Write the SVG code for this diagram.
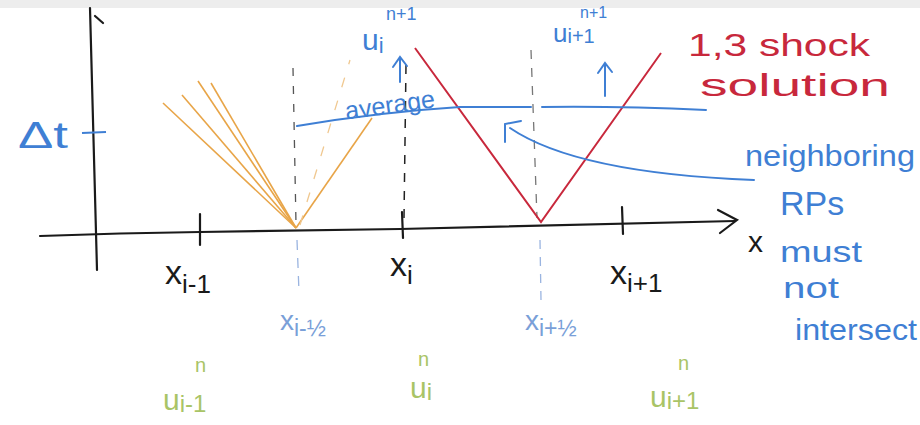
<svg xmlns="http://www.w3.org/2000/svg" width="920" height="425" viewBox="0 0 920 425">
<style>
text{font-family:"Liberation Sans","DejaVu Sans",sans-serif}
.blk{fill:#1a1a1a}
.blu{fill:#3f7fd4}
.lbl{fill:#7a9fd8}
.red{fill:#c8283c}
.grn{fill:#a9c466}
.ax{stroke:#1a1a1a;stroke-width:2.2;fill:none;stroke-linecap:round}
.bl{stroke:#3f7fd4;stroke-width:2;fill:none;stroke-linecap:round}
.rd{stroke:#c8283c;stroke-width:2;fill:none}
.or{stroke:#e8a548;stroke-width:1.6;fill:none}
</style>
<rect width="920" height="425" fill="#ffffff"/>
<rect width="920" height="8" fill="#ededed"/>
<g id="axes">
<path class="ax" d="M90 8 L97 270"/>
<path class="ax" d="M95 16 L103 23"/>
<path class="ax" d="M40 236 Q120 233 200 232 L400 229 L735 221"/>
<path class="ax" d="M718 210 L737 220 L720 233"/>
<path class="ax" d="M200 214 L200 245"/>
<path class="ax" d="M402 212 L403 238"/>
<path class="ax" d="M622 207 L623 234"/>
<path d="M82 133 L106 132" stroke="#3f7fd4" stroke-width="2.2"/>
</g>
<g id="dashed">
<path d="M293 68 L296 224" stroke="#555" stroke-width="1.3" stroke-dasharray="8 10" fill="none"/>
<path d="M297 240 L299 292" stroke="#9ab4e0" stroke-width="1.3" stroke-dasharray="10 8" fill="none"/>
<path d="M406 65 L404 218" stroke="#222" stroke-width="1.5" stroke-dasharray="9 9" fill="none"/>
<path d="M531 50 L537 218" stroke="#777" stroke-width="1.3" stroke-dasharray="9 9" fill="none"/>
<path d="M540 240 L541 300" stroke="#9ab4e0" stroke-width="1.3" stroke-dasharray="9 8" fill="none"/>
</g>
<g id="fan">
<path class="or" d="M296 228 L163 103"/>
<path class="or" d="M296 228 L182 95"/>
<path class="or" d="M296 228 L198 81"/>
<path class="or" d="M296 228 L211 83"/>
<path class="or" d="M296 228 L372 118"/>
<path d="M300 225 L350 60" stroke="#f0c890" stroke-width="1.3" stroke-dasharray="10 14" fill="none"/>
</g>
<g id="shock">
<path class="rd" d="M415 48 L541 222 L661 53"/>
</g>
<g id="average">
<path class="bl" d="M297 126 Q380 112 460 107 L531 107"/>
<path class="bl" d="M542 107 Q620 106 706 110"/>
<path class="bl" d="M400 82 L400 58 M393 67 L400 57 L407 66"/>
<path class="bl" d="M605 96 L605 64 M598 73 L605 63 L612 72"/>
<path class="bl" d="M754 180 C650 176 560 162 510 128"/>
<path class="bl" d="M505 142 L505 124 L521 121"/>
</g>
<g id="labels">
<text class="blu" x="18" y="148" font-size="36" textLength="50" lengthAdjust="spacingAndGlyphs">Δt</text>
<text class="blu" x="362" y="50" font-size="30">u<tspan font-size="22" dy="3">i</tspan></text>
<text class="blu" x="386" y="20" font-size="18">n+1</text>
<text class="blu" x="553" y="42" font-size="26">u<tspan font-size="20" dy="1">i+1</tspan></text>
<text class="blu" x="580" y="18" font-size="16">n+1</text>
<text class="blu" x="345" y="112" font-size="25" transform="rotate(-8 400 106)">average</text>
<text class="red" x="688" y="56" font-size="32" textLength="182" lengthAdjust="spacingAndGlyphs">1,3 shock</text>
<text class="red" x="700" y="96" font-size="32" textLength="190" lengthAdjust="spacingAndGlyphs">solution</text>
<text class="blu" x="745" y="166" font-size="30" textLength="170" lengthAdjust="spacingAndGlyphs">neighboring</text>
<text class="blu" x="780" y="215" font-size="34">RPs</text>
<text class="blu" x="780" y="262" font-size="30" textLength="82" lengthAdjust="spacingAndGlyphs">must</text>
<text class="blu" x="783" y="298" font-size="30" textLength="56" lengthAdjust="spacingAndGlyphs">not</text>
<text class="blu" x="795" y="340" font-size="29" textLength="122" lengthAdjust="spacingAndGlyphs">intersect</text>
<text class="blk" x="748" y="252" font-size="30">x</text>
<text class="blk" x="165" y="284" font-size="34">x<tspan font-size="26" dy="9">i-1</tspan></text>
<text class="blk" x="390" y="276" font-size="34">x<tspan font-size="26" dy="8">i</tspan></text>
<text class="blk" x="610" y="284" font-size="34">x<tspan font-size="26" dy="8">i+1</tspan></text>
<text class="lbl" x="280" y="330" font-size="28">x<tspan font-size="23" dy="6">i-½</tspan></text>
<text class="lbl" x="525" y="330" font-size="28">x<tspan font-size="23" dy="6">i+½</tspan></text>
<text class="grn" x="195" y="372" font-size="20">n</text>
<text class="grn" x="163" y="410" font-size="30">u<tspan font-size="24" dy="2">i-1</tspan></text>
<text class="grn" x="418" y="366" font-size="20">n</text>
<text class="grn" x="410" y="398" font-size="30">u<tspan font-size="24" dy="2">i</tspan></text>
<text class="grn" x="678" y="370" font-size="20">n</text>
<text class="grn" x="650" y="407" font-size="30">u<tspan font-size="24" dy="2">i+1</tspan></text>
</g>
</svg>
